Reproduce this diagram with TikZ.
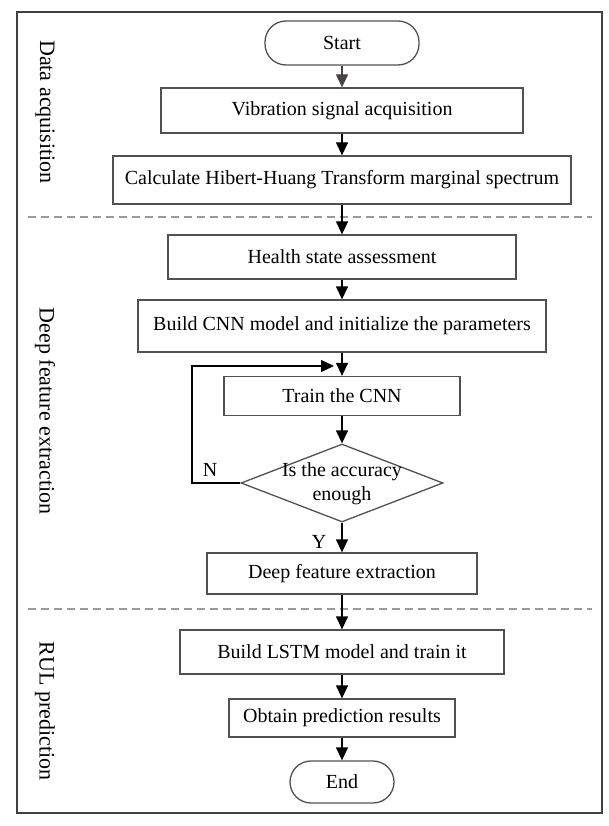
\documentclass[tikz,border=0pt]{standalone}
\usepackage{fontspec}
\setmainfont{Liberation Serif}
\usetikzlibrary{arrows.meta,shapes.geometric}
\definecolor{boxline}{HTML}{555050}
\definecolor{frameline}{HTML}{404040}
\definecolor{dashline}{HTML}{9A9A9A}
\definecolor{startarrow}{HTML}{4A4242}
\begin{document}
\begin{tikzpicture}[x=1pt,y=-1pt,
  procbox/.style={draw=boxline, line width=1.3pt, fill=white, inner sep=0pt,
    font=\fontsize{20}{24}\selectfont, align=center},
  termbox/.style={procbox, rounded corners=21pt},
  flowarrow/.style={-{Triangle[length=13pt,width=12pt]}, line width=1.3pt, black},
  sidelabel/.style={rotate=-90, font=\fontsize{22}{26}\selectfont},
  sepline/.style={draw=dashline, dash pattern=on 8pt off 5pt, line width=1.2pt},
  yesno/.style={font=\fontsize{20}{24}\selectfont, inner sep=0pt}]
\useasboundingbox (0,0) rectangle (609,826);
\fill[white] (0,0) rectangle (609,826);
\draw[frameline, line width=1.3pt] (17,12) rectangle (602,813);

% separators
\coordinate (s1a) at (28,217); \coordinate (s1b) at (592,217);
\coordinate (s2a) at (28,609); \coordinate (s2b) at (592,609);
\draw[sepline] (s1a) -- (s1b);
\draw[sepline] (s2a) -- (s2b);

% side labels
\node[sidelabel] (lab1) at (45,112) {Data acquisition};
\node[sidelabel] (lab2) at (45,411) {Deep feature extraction};
\node[sidelabel] (lab3) at (45,711) {RUL prediction};

% nodes
\node[termbox, minimum width=154pt, minimum height=44pt] (start) at (342,43) {Start};
\node[procbox, minimum width=362pt, minimum height=45pt] (vib) at (342,110.5) {Vibration signal acquisition};
\node[procbox, minimum width=458pt, minimum height=48pt] (calc) at (342,180) {Calculate Hibert-Huang Transform marginal spectrum};
\node[procbox, minimum width=348pt, minimum height=44pt] (health) at (342,257) {Health state assessment};
\node[procbox, minimum width=408pt, minimum height=52pt] (cnn) at (342,326) {Build CNN model and initialize the parameters};
\node[procbox, minimum width=236pt, minimum height=39pt] (train) at (342,396) {Train the CNN};
\node[diamond, draw=boxline, line width=1.3pt, fill=white, inner sep=0pt,
      minimum width=202pt, minimum height=78pt, aspect=2.59] (dia) at (342,483) {};
\node[align=center, font=\fontsize{20}{24}\selectfont, inner sep=0pt] (diatext) at (342,484) {Is the accuracy\\enough};
\node[procbox, minimum width=270pt, minimum height=41pt] (deep) at (342,573.5) {Deep feature extraction};
\node[procbox, minimum width=324pt, minimum height=44pt] (lstm) at (342,652) {Build LSTM model and train it};
\node[procbox, minimum width=226pt, minimum height=38pt] (obtain) at (342,718) {Obtain prediction results};
\node[termbox, minimum width=104pt, minimum height=42pt] (endn) at (342,782) {End};

% labels
\node[yesno] (nlab) at (210,470) {N};
\node[yesno] (ylab) at (319,542) {Y};

% connectors
\draw[flowarrow, startarrow] (start) -- (vib);
\draw[flowarrow] (vib) -- (calc);
\draw[flowarrow] (calc) -- (health);
\draw[flowarrow] (health) -- (cnn);
\draw[flowarrow] (cnn) -- (train);
\draw[flowarrow] (train) -- (dia);
\draw[flowarrow] (dia) -- (deep);
\draw[flowarrow] (deep) -- (lstm);
\draw[flowarrow] (lstm) -- (obtain);
\draw[flowarrow] (obtain) -- (endn);
\coordinate (loopleft) at (192,366);
\coordinate (loopend) at (334,366);
\draw[flowarrow] (dia.west) -| (loopleft) -- (loopend);
\end{tikzpicture}
\end{document}
